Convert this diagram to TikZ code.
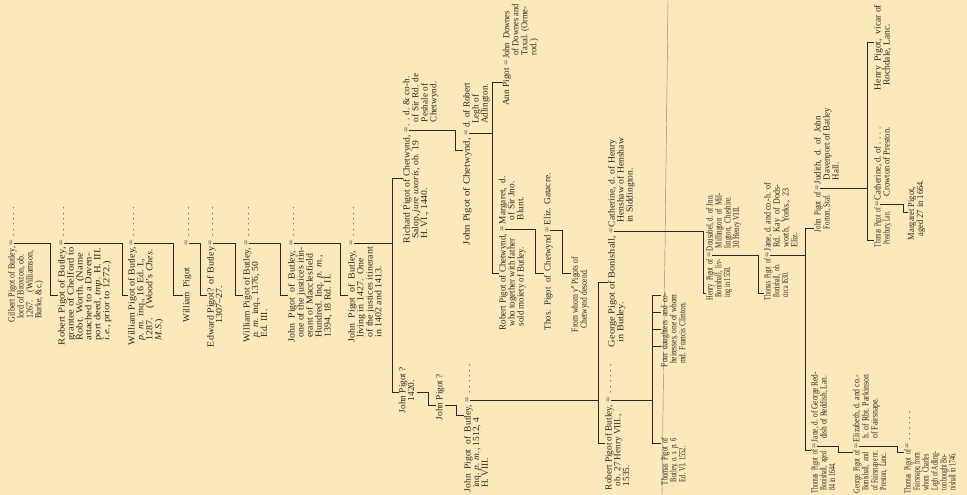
\documentclass[tikz,border=0pt]{standalone}
\usepackage{fontspec}
\usepackage{graphicx}
\setmainfont{Liberation Serif}
\definecolor{bg}{RGB}{251,233,187}
\definecolor{ink}{RGB}{45,38,32}
\newcommand\pfs{\fontsize{9.3}{8.3}\selectfont}
\newcommand\hng{\hspace*{4pt}}
\newcommand\fit[2]{\resizebox{#1pt}{\height}{\begin{tabular}{@{}l@{}}#2\end{tabular}}}
\newcommand\nat[1]{\begin{tabular}{@{}l@{}}#1\end{tabular}}
\tikzset{
 blk/.style={rotate=90, anchor=north west, inner sep=0pt, outer sep=0pt, font=\pfs, text=ink},
 eqs/.style={rotate=90, inner sep=0pt, outer sep=0pt, font=\pfs, text=ink},
 dts/.style={rotate=90, anchor=base west, inner sep=0pt, font=\pfs, text=ink},
 ln/.style={draw=ink, line width=0.55pt},
}
\begin{document}
\begin{tikzpicture}[x=1pt,y=-1pt]
\fill[bg] (0,0) rectangle (967,495);
\useasboundingbox (0,0) rectangle (967,495);
\draw[ink!55, line width=0.45pt] (668,0) -- (662,495);
% ancestors
\node[blk] (gil) at (8,322) {\fit{75}{Gilbert Pigot of Butley,\\\hng lord of Broxton, ob.\\\hng 1267.\quad (Williamson,\\\hng Burke, \&c.)}};
\node[eqs] (gile) at (12,243) {=};
\node[dts] (gild) at (14,237) {. . . . . .};
\node[blk] (rob) at (58,345) {\fit{98}{Robert Pigot of Butley,\\\hng grantee of Chelford to\\\hng Robt. Worth. (Name\\\hng attached to a Daven-\\\hng port deed, \emph{tmp.} H. III.\\\hng \emph{i.e.}, prior to 1272.)}};
\node[eqs] (robe) at (62,243) {=};
\node[dts] (robd) at (64,237) {. . . . . .};
\node[blk] (wil) at (128,345) {\fit{98}{William Pigot of Butley,\\\hng \emph{p. m.} inq., 16 Ed. I.,\\\hng 1287.\quad (Wood's \emph{Ches.}\\\hng \emph{M.S.})}};
\node[eqs] (wile) at (132,243) {=};
\node[dts] (wild) at (134,237) {. . . . . .};
\node[blk] (wp) at (183,322) {\nat{William\ \ Pigot}};
\node[eqs] (wpe) at (187,243) {=};
\node[dts] (wpd) at (189,237) {. . . . . .};
\node[blk] (edw) at (207,347) {\fit{100}{Edward Pigot? of Butley\\\hspace*{22pt}1307--27.}};
\node[eqs] (edwe) at (211,243) {=};
\node[dts] (edwd) at (213,237) {. . . . . .};
\node[blk] (wl3) at (243,342) {\fit{94}{William Pigot of Butley,\\\hng \emph{p. m.} inq., 1376, 50\\\hng Ed. III.}};
\node[eqs] (wl3e) at (247,243) {=};
\node[dts] (wl3d) at (249,237) {. . . . . .};
\node[blk] (jn1) at (288,342) {\fit{95}{John\ \ Pigot\ \ of\ \ Butley,\\\hng one of the justices itin-\\\hng erant of Macclesfield\\\hng Hundred. Inq. \emph{p. m.},\\\hng 1394, 18 Rd. II.}};
\node[eqs] (jn1e) at (292,243) {=};
\node[dts] (jn1d) at (294,237) {. . . . . .};
\node[blk] (jn2) at (348,342) {\fit{95}{John\ \ Pigot\ \ of\ \ Butley,\\\hng living in 1427.\ \ One\\\hng of the justices itinerant\\\hng in 1402 and 1413.}};
\node[eqs] (jn2e) at (352,243) {=};
\node[dts] (jn2d) at (354,237) {. . . . . .};
\draw[ln] (gile.south) -| (50,295) -- (rob.north |- 0,295);
\draw[ln] (robe.south) -| (122,295) -- (wil.north |- 0,295);
\draw[ln] (wile.south) -| (173,295) -- (wp.north |- 0,295);
\draw[ln] (wpe.south) -| (200,295) -- (edw.north |- 0,295);
\draw[ln] (edwe.south) -| (235,295) -- (wl3.north |- 0,295);
\draw[ln] (wl3e.south) -| (280,295) -- (jn1.north |- 0,295);
\draw[ln] (jn1e.south) -| (340,295) -- (jn2.north |- 0,295);
\draw[ln] (jn2e.south) -- (392,243);
% Chetwynd line
\node[blk] (rich) at (403,243) {\fit{108}{Richard Pigot of Chetwynd,\\\hng Salop, \emph{jure uxoris}, ob. 19\\\hng H. VI., 1440.}};
\node[eqs] (riche) at (407,130) {=};
\node[blk] (rsp) at (403,126) {\nat{. . d. \& co-h.\\\hng of Sir Rd. de\\\hng Peshale of\\\hng Chetwynd.}};
\node[blk] (jq1) at (399,413) {\nat{John Pigot ?\\\hspace*{12pt}1420.}};
\node[blk] (jq2) at (436,420) {\nat{John Pigot ?}};
\draw[ln] (rich.north |- 0,178) -- (392,178) -- (392,392) -- (jq1.north |- 0,392);
\draw[ln] (jq1.south |- 0,392) -- (428,392) -- (428,405) -- (jq2.north |- 0,405);
\node[blk] (jc) at (463,245) {\fit{107}{John Pigot of Chetwynd,}};
\node[eqs] (jce) at (467,133) {=};
\node[blk] (jcsp) at (463,128) {\nat{d. of Robert\\\hng Legh of\\\hng Adlington.}};
\draw[ln] (riche.south) -| (455,150) -- (jc.north |- 0,150);
\node[blk] (ann) at (503,106) {\nat{Ann Pigot}};
\node[eqs] (anne) at (507,63) {=};
\node[blk] (asp) at (503,59) {\fit{55}{John\ \ Downes\\\hng of Downes and\\\hng Taxal. (Orme-\\\hng rod.)}};
\node[blk] (rc) at (499,330) {\fit{96}{Robert Pigot of Chetwynd,\\\hng who together with father\\\hng sold moiety of Butley.}};
\node[eqs] (rce) at (503,229) {=};
\node[blk] (rcsp) at (499,224) {\nat{Margaret,\ \ d.\\\hng of Sir Jno.\\\hng Blunt.}};
\draw[ln] (jce.south) -- (492,133);
\draw[ln] (ann.north |- 0,82) -- (492,82) -- (492,273) -- (rc.north |- 0,273);
\node[blk] (th) at (544,330) {\fit{95}{Thos.\ \ Pigot\ \ of\ \ Chetwynd}};
\node[eqs] (the) at (548,230) {=};
\node[blk] (thsp) at (544,225) {\nat{Eliz. Gatacre.}};
\draw[ln] (rce.south) -| (535,273) -- (th.north |- 0,273);
\node[blk] (fw) at (571,332) {\fit{75}{From whom y\textsuperscript{e} Pigots of\\\hng Chetwynd descend.}};
\draw[ln] (the.south) -| (562,273) -- (fw.north |- 0,273);
% Butley line
\node[blk] (jn3) at (464,492) {\fit{87}{John\ \ Pigot\ \ of\ \ Butley,\\\hng inq. \emph{p. m.}, 1512, 4\\\hng H. VIII.}};
\node[eqs] (jn3e) at (468,400) {=};
\node[dts] (jn3d) at (470,394) {. . . . . .};
\draw[ln] (jq2.south |- 0,405) -- (456,405) -- (456,415) -- (jn3.north |- 0,415);
\node[blk] (gb) at (608,347) {\fit{111}{George Pigot of Bonishall,\\\hng in Butley.}};
\node[eqs] (gbe) at (612,231) {=};
\node[blk] (gbsp) at (608,227) {\fit{89}{Catherine, d. of Henry\\\hng Henshaw of Henshaw\\\hng in Siddington.}};
\node[blk] (rb) at (605,490) {\fit{85}{Robert Pigot of Butley,\\\hng ob. 27 Henry VIII.,\\\hng 1535.}};
\node[eqs] (rbe) at (609,400) {=};
\node[dts] (rbd) at (611,394) {. . . . . .};
\draw[ln] (jn3e.south) -- (598,400);
\draw[ln] (gb.north |- 0,282) -- (598,282) -- (598,443) -- (rb.north |- 0,443);
\node[blk] (tb) at (661,485) {\fit{47}{Thomas\ \ Pigot\ \ of\\\hng Butley, \emph{o. s. p.} 6\\\hng Ed. VI. 1552.}};
\node[blk] (fd) at (661,367) {\fit{74}{Four\ \ daughters\ \ and\ \ co-\\\hng heiresses, one of whom\\\hng md. Francis Clinton.}};
\draw[ln] (rbe.south) -- (652,400);
\draw[ln] (fd.north |- 0,295) -- (652,295) -- (652,443) -- (tb.north |- 0,443);
\draw[ln] (652,312) -- (fd.north |- 0,312);
\draw[ln] (652,329) -- (fd.north |- 0,329);
\draw[ln] (652,346) -- (fd.north |- 0,346);
% Bonishall
\node[blk] (hb) at (706,300) {\fit{41}{Henry\ \ Pigot\ \ of\\\hng Bonishall,\ \ liv-\\\hng ing in 1558.}};
\node[eqs] (hbe) at (710,255) {=};
\node[blk] (hbsp) at (706,251) {\fit{58}{Dousabel, d. of Jno.\\\hng Millington\ \ of\ \ Mil-\\\hng lington,\ \ Cheshire.\\\hng 30 Henry VIII.}};
\draw[ln] (gbe.south) -| (703,293) -- (hb.north |- 0,293);
\node[blk] (tp) at (764,300) {\fit{41}{Thomas\ \ Pigot\ \ of\\\hng Bonishall,\ \ ob.\\\hng circa 1630.}};
\node[eqs] (tpe) at (768,255) {=};
\node[blk] (tpsp) at (764,251) {\fit{68}{Jane, d. and co.-h. of\\\hng Rd.\ \ Kay\ \ of\ \ Dods-\\\hng worth,\ \ Yorks.,\ \ 23\\\hng Eliz.}};
\draw[ln] (hbe.south) -| (758,293) -- (tp.north |- 0,293);
\node[blk] (jf) at (814,232) {\fit{40}{John\ \ Pigot\ \ of\\\hng Forton, Staf.}};
\node[eqs] (jfe) at (818,188) {=};
\node[blk] (jfsp) at (814,184) {\fit{76}{Judith,\ \ d.\ \ of\ \ John\\\hng Davenport of Batley\\\hng Hall.}};
\node[blk] (t84) at (811,493) {\fit{43}{Thomas\ \ Pigot\ \ of\\\hng Bonishall,\ \ aged\\\hng 84 in 1644.}};
\node[eqs] (t84e) at (815,446) {=};
\node[blk] (t84sp) at (811,442) {\fit{70}{Jane, d. of George Red-\\\hng dish of Reddish, Lan.}};
\draw[ln] (tpe.south) -- (805,255);
\draw[ln] (jf.north |- 0,228) -- (805,228) -- (805,450) -- (t84.north |- 0,450);
\node[blk] (hv) at (874,90) {\fit{85}{Henry\ \ Pigot,\ \ vicar of\\\hng Rochdale, Lanc.}};
\node[blk] (tpr) at (874,247) {\fit{39}{Thomas\ \ Pigot\ \ of\\\hng Prestbury, Lan.}};
\node[eqs] (tpre) at (878,204) {=};
\node[blk] (tprsp) at (874,200) {\fit{73}{Catherine, d. of . . . .\\\hng Crowton of Preston.}};
\draw[ln] (jfe.south) -- (867,188);
\draw[ln] (hv.north |- 0,42) -- (867,42) -- (867,240) -- (tpr.north |- 0,240);
\node[blk] (mg) at (908,240) {\fit{60}{Margaret Pigot,\\\hng aged 27 in 1664.}};
\draw[ln] (tpre.south) -| (903,212) -- (mg.north |- 0,212);
\node[blk] (g2) at (853,493) {\fit{43}{George\ \ Pigot\ \ of\\\hng Bonishall,\ \ and\\\hng of Fairsnape nr.\\\hng Preston,\ \ Lanc.}};
\node[eqs] (g2e) at (857,446) {=};
\node[blk] (g2sp) at (853,442) {\fit{67}{Elizabeth, d. and co.-\\\hng h. of Rbt. Parkinson\\\hng of Fairsnape.}};
\draw[ln] (t84e.south) -| (838,452) -- (g2.north |- 0,452);
\node[blk] (tf) at (904,493) {\fit{43}{Thomas\ \ Pigot\ \ of\\\hng Fairsnape, from\\\hng whom\ \ Charles\\\hng Legh of Adling-\\\hng ton bought Bo-\\\hng nishall in 1746.}};
\node[eqs] (tfe) at (908,446) {=};
\node[dts] (tfd) at (910,441) {. . . . . .};
\draw[ln] (g2e.south) -| (897,452) -- (tf.north |- 0,452);
\end{tikzpicture}
\end{document}
